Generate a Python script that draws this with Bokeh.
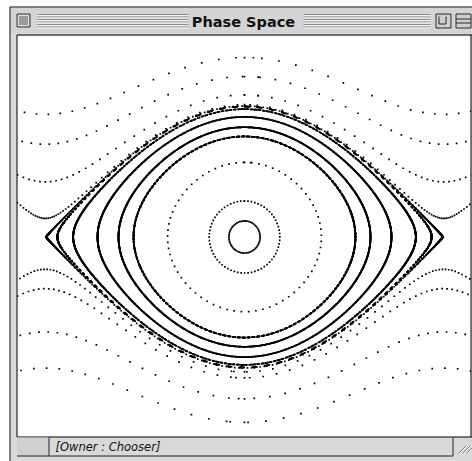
import numpy as np
from bokeh.plotting import figure
from bokeh.models import Range1d
from bokeh.embed import file_html
from bokeh.resources import INLINE
from bokeh.core.properties import value

# ---- data: pendulum orbits ----
# libration orbits: angular velocity when passing theta = 0, and number of time steps plotted
libration_w0 = [0.245, 0.55, 1.14, 1.535, 1.676, 1.833, 1.952, 1.991, 1.9999]
libration_steps = [64, 64, 70, 1500, 1500, 1500, 1500, 1200, 900]
# rotation orbits: angular velocity at theta = 0 and number of 2*pi passes plotted
rotation_w0 = [2.02, 2.17, 2.45, 2.74, -2.06, -2.15, -2.47, -2.83]
rotation_passes = [1, 1, 1, 1, 1, 1, 1, 1]
dt = 0.1

title_text = "Phase Space"
status_text = "[Owner : Chooser]"

# page-pixel geometry of the window (for chrome only)
FIG_W, FIG_H = 472, 461
PX0, PY0 = 0, 0
CX, CY = 244.0, 236.5          # page position of theta=0, omega=0
SX, SY = 63.4, 65.5            # px per rad, px per rad/s


def integrate(th, w, n):
    ths = [th]
    ws = [w]
    for _ in range(n):
        k1t = w; k1w = -np.sin(th)
        k2t = w + 0.5 * dt * k1w; k2w = -np.sin(th + 0.5 * dt * k1t)
        k3t = w + 0.5 * dt * k2w; k3w = -np.sin(th + 0.5 * dt * k2t)
        k4t = w + dt * k3w; k4w = -np.sin(th + dt * k3t)
        th = th + dt / 6 * (k1t + 2 * k2t + 2 * k3t + k4t)
        w = w + dt / 6 * (k1w + 2 * k2w + 2 * k3w + k4w)
        ths.append(th)
        ws.append(w)
    return np.array(ths), np.array(ws)


xs, ys = [], []
for w0, n in zip(libration_w0, libration_steps):
    t, w = integrate(0.0, w0, n)
    xs.append(t); ys.append(w)

for w0, npass in zip(rotation_w0, rotation_passes):
    t_list, w_list = [0.0], [w0]
    th, w = 0.0, w0
    while abs(th) < npass * 2 * np.pi:
        tt, ww = integrate(th, w, 1)
        th, w = tt[-1], ww[-1]
        t_list.append(th); w_list.append(w)
    t = np.array(t_list); w = np.array(w_list)
    tw = np.mod(t + np.pi, 2 * np.pi) - np.pi
    for shift in (-2 * np.pi, 0.0, 2 * np.pi):
        ts = tw + shift
        m = np.abs(ts) < 3.8
        xs.append(ts[m]); ys.append(w[m])

theta = np.concatenate(xs)
omega = np.concatenate(ys)

x0 = (PX0 - CX) / SX
x1 = (PX0 + FIG_W - CX) / SX
y1 = (CY - PY0) / SY
y0 = (CY - (PY0 + FIG_H)) / SY

p = figure(width=FIG_W, height=FIG_H, output_backend="svg", toolbar_location=None,
           x_range=Range1d(x0, x1), y_range=Range1d(y0, y1), min_border=0)
p.axis.visible = False
p.grid.visible = False
p.outline_line_color = None
p.background_fill_color = "white"
p.border_fill_color = "white"
p.extra_x_ranges = {"px": Range1d(PX0, PX0 + FIG_W)}
p.extra_y_ranges = {"py": Range1d(PY0 + FIG_H, PY0)}

p.scatter(theta, omega, marker="square", size=1.7, fill_color="black", line_color=None)

G = dict(x_range_name="px", y_range_name="py")
frame_gray = "#d9d9d9"
# page outside the window
p.quad(left=-5, right=9, top=-5, bottom=470, fill_color="white", line_color=None, **G)
p.quad(left=-5, right=480, top=-5, bottom=6, fill_color="white", line_color=None, **G)
# frame pieces
p.quad(left=9, right=480, top=6, bottom=35, fill_color="#d4d4d4", line_color=None, **G)
p.quad(left=9, right=16.5, top=35, bottom=470, fill_color=frame_gray, line_color=None, **G)
p.quad(left=9, right=480, top=436.5, bottom=470, fill_color=frame_gray, line_color=None, **G)
p.quad(left=470.5, right=480, top=35, bottom=470, fill_color=frame_gray, line_color=None, **G)
# outer border
p.segment(x0=[9.5, 9.5], y0=[6.5, 6.5], x1=[9.5, 480], y1=[470, 6.5], line_color="#222222", line_width=1, **G)
# content border
p.segment(x0=[16.5, 16.5, 16.5, 470.5], y0=[34.5, 34.5, 436.5, 34.5], x1=[16.5, 480, 480, 470.5],
          y1=[436.5, 34.5, 436.5, 436.5], line_color="black", line_width=1, **G)
# title bar stripes
sy = [14 + 2.5 * i for i in range(6)]
p.segment(x0=[37] * 6, x1=[188] * 6, y0=sy, y1=sy, line_color="#8c8c8c", line_width=1, **G)
p.segment(x0=[303] * 6, x1=[430] * 6, y0=sy, y1=sy, line_color="#8c8c8c", line_width=1, **G)
sy2 = [s + 1 for s in sy]
p.segment(x0=[37] * 6, x1=[188] * 6, y0=sy2, y1=sy2, line_color="#f4f4f4", line_width=1, **G)
p.segment(x0=[303] * 6, x1=[430] * 6, y0=sy2, y1=sy2, line_color="#f4f4f4", line_width=1, **G)
# close box
p.quad(left=16.5, right=29.5, top=13.5, bottom=26.5, fill_color="#b8b8b8", line_color="#3a3a3a", **G)
p.quad(left=18, right=28, top=15, bottom=25, fill_color="#9a9a9a", line_color="#e0e0e0", **G)
# zoom box / collapse box
p.quad(left=435.5, right=450.5, top=13.5, bottom=27.5, fill_color="#cfcfcf", line_color="#2a2a2a", **G)
p.segment(x0=[438.5, 438.5, 445.5], y0=[16, 23.5, 16], x1=[438.5, 445.5, 445.5], y1=[23.5, 23.5, 23.5],
          line_color="#2a2a2a", **G)
p.quad(left=455.5, right=470.5, top=13.5, bottom=27.5, fill_color="#cfcfcf", line_color="#2a2a2a", **G)
p.segment(x0=[455.5, 455.5], y0=[18.5, 22.5], x1=[470.5, 470.5], y1=[18.5, 22.5], line_color="#2a2a2a", **G)
# title
p.text(x=[243], y=[21], text=[title_text], text_font=value("DejaVu Sans"), text_font_style="bold",
       text_font_size="14.5px", text_align="center", text_baseline="middle", text_color="#111111", **G)
# status bar
p.quad(left=17, right=48, top=437, bottom=455, fill_color="#d0d0d0", line_color=None, **G)
p.segment(x0=[48.5, 16.5, 452.5], y0=[437, 455.5, 437], x1=[48.5, 452.5, 452.5], y1=[455.5, 455.5, 455.5],
          line_color="#222222", **G)
# grow box
gx = [458, 462, 466]
p.segment(x0=gx, y0=[453, 453, 453], x1=[g + 8 for g in gx], y1=[445, 445, 445], line_color="#7a7a7a", **G)
p.segment(x0=[g + 1 for g in gx], y0=[453, 453, 453], x1=[g + 9 for g in gx], y1=[445, 445, 445],
          line_color="#f8f8f8", **G)
p.text(x=[55], y=[446], text=[status_text], text_font=value("DejaVu Sans"), text_font_style="italic",
       text_font_size="11.5px", text_align="left", text_baseline="middle", text_color="#111111", **G)

open("out.html", "w").write(file_html(p, INLINE))
